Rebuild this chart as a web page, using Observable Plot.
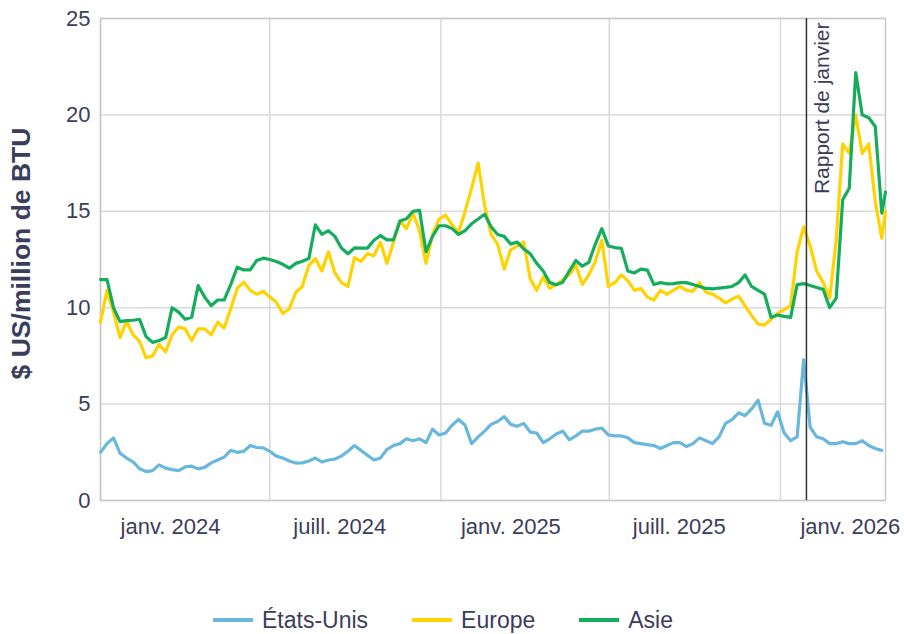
<!DOCTYPE html>
<html><head><meta charset="utf-8">
<script src="https://cdn.jsdelivr.net/npm/d3@7"></script>
<script src="https://cdn.jsdelivr.net/npm/@observablehq/plot@0.6"></script>
<style>
body{margin:0;background:#fff;font-family:"Liberation Sans",Arial,sans-serif;color:#3b3d5c}
#legend{display:flex;align-items:center;padding-left:213px;height:50px;font-size:23px}
.item{display:flex;align-items:center;margin-right:44px}
.sw{width:40px;height:4px;margin-right:9px}
</style></head><body><div id="chart"></div><div id="legend"></div>
<script>
const weeks = [
"2024-01-01","2024-01-08","2024-01-15","2024-01-22","2024-01-29",
"2024-02-05","2024-02-12","2024-02-19","2024-02-26",
"2024-03-04","2024-03-11","2024-03-18","2024-03-25",
"2024-04-01","2024-04-08","2024-04-15","2024-04-22","2024-04-29",
"2024-05-06","2024-05-13","2024-05-20","2024-05-27",
"2024-06-03","2024-06-10","2024-06-17","2024-06-24",
"2024-07-01","2024-07-08","2024-07-15","2024-07-22","2024-07-29",
"2024-08-05","2024-08-12","2024-08-19","2024-08-26",
"2024-09-02","2024-09-09","2024-09-16","2024-09-23","2024-09-30",
"2024-10-07","2024-10-14","2024-10-21","2024-10-28",
"2024-11-04","2024-11-11","2024-11-18","2024-11-25",
"2024-12-02","2024-12-09","2024-12-16","2024-12-23","2024-12-30",
"2025-01-06","2025-01-13","2025-01-20","2025-01-27",
"2025-02-03","2025-02-10","2025-02-17","2025-02-24",
"2025-03-03","2025-03-10","2025-03-17","2025-03-24","2025-03-31",
"2025-04-07","2025-04-14","2025-04-21","2025-04-28",
"2025-05-05","2025-05-12","2025-05-19","2025-05-26",
"2025-06-02","2025-06-09","2025-06-16","2025-06-23","2025-06-30",
"2025-07-07","2025-07-14","2025-07-21","2025-07-28",
"2025-08-04","2025-08-11","2025-08-18","2025-08-25",
"2025-09-01","2025-09-08","2025-09-15","2025-09-22","2025-09-29",
"2025-10-06","2025-10-13","2025-10-20","2025-10-27",
"2025-11-03","2025-11-10","2025-11-17","2025-11-24",
"2025-12-01","2025-12-08","2025-12-15","2025-12-22","2025-12-29",
"2026-01-05","2026-01-12","2026-01-19","2026-01-26",
"2026-02-02","2026-02-09","2026-02-16","2026-02-23",
"2026-03-02","2026-03-09","2026-03-16","2026-03-23","2026-03-30",
"2026-04-06","2026-04-13","2026-04-20",
"2026-04-24"
];

const usValues = [
2.5, 2.95, 3.25, 2.45, 2.2, 2.0, 1.65, 1.5, 1.55, 1.85,
1.68, 1.6, 1.55, 1.75, 1.78, 1.64, 1.72, 1.95, 2.1, 2.25,
2.6, 2.5, 2.55, 2.85, 2.75, 2.73, 2.55, 2.3, 2.2, 2.05,
1.94, 1.95, 2.05, 2.2, 2.0, 2.1, 2.15, 2.3, 2.55, 2.85,
2.6, 2.35, 2.1, 2.2, 2.65, 2.85, 2.95, 3.2, 3.1, 3.2,
3.0, 3.7, 3.4, 3.5, 3.9, 4.2, 3.9, 2.95, 3.3, 3.6,
3.95, 4.1, 4.35, 3.95, 3.85, 4.0, 3.55, 3.5, 3.0, 3.2,
3.45, 3.6, 3.15, 3.35, 3.6, 3.6, 3.7, 3.75, 3.4, 3.35,
3.35, 3.25, 3.0, 2.95, 2.9, 2.85, 2.7, 2.85, 3.0, 3.0,
2.8, 2.95, 3.25, 3.1, 2.95, 3.3, 4.0, 4.2, 4.55, 4.4,
4.75, 5.2, 4.0, 3.9, 4.6, 3.5, 3.1, 3.3, 7.3, 3.8,
3.3, 3.2, 2.95, 2.95, 3.05, 2.95, 2.95, 3.1, 2.85, 2.7,
2.6
];

const europeValues = [
9.25, 10.9, 9.77, 8.45, 9.3, 8.6, 8.25, 7.4, 7.5, 8.1,
7.7, 8.6, 9.0, 8.9, 8.3, 8.9, 8.9, 8.6, 9.25, 8.95,
9.94, 11.0, 11.32, 10.9, 10.7, 10.85, 10.55, 10.3, 9.7, 9.95,
10.8, 11.1, 12.2, 12.55, 11.9, 12.9, 11.8, 11.3, 11.1, 12.6,
12.4, 12.8, 12.7, 13.4, 12.3, 13.4, 14.5, 14.1, 14.9, 14.0,
12.3, 13.8, 14.6, 14.8, 14.3, 13.9, 15.0, 16.2, 17.5, 15.3,
13.8, 13.3, 12.0, 13.0, 13.2, 13.4, 11.5, 10.9, 11.6, 11.0,
11.2, 11.45, 11.7, 12.2, 11.2, 11.7, 12.4, 13.5, 11.1, 11.3,
11.7, 11.4, 10.9, 11.0, 10.55, 10.4, 10.9, 10.7, 10.9, 11.1,
10.9, 10.85, 11.3, 10.8, 10.7, 10.5, 10.25, 10.45, 10.6, 10.1,
9.6, 9.15, 9.1, 9.4, 9.7, 9.9, 10.1, 12.9, 14.2, 13.2,
11.9, 11.3, 10.5, 13.5, 18.5, 18.0, 20.0, 18.0, 18.5, 15.5,
13.6, 15.0
];

const asiaValues = [
11.46, 11.46, 10.0, 9.28, 9.33, 9.35, 9.4, 8.5, 8.2, 8.3,
8.45, 10.0, 9.77, 9.4, 9.5, 11.15, 10.55, 10.1, 10.4, 10.4,
11.2, 12.1, 11.96, 11.96, 12.45, 12.57, 12.5, 12.4, 12.25, 12.05,
12.3, 12.41, 12.55, 14.3, 13.8, 14.0, 13.7, 13.1, 12.8, 13.1,
13.09, 13.09, 13.5, 13.74, 13.52, 13.52, 14.5, 14.61, 15.0, 15.05,
12.9, 13.7, 14.25, 14.25, 14.1, 13.8, 14.0, 14.35, 14.6, 14.85,
14.2, 13.8, 13.7, 13.3, 13.4, 13.05, 12.8, 12.3, 11.9, 11.3,
11.19, 11.32, 11.9, 12.45, 12.15, 12.35, 13.3, 14.1, 13.2, 13.12,
13.08, 11.9, 11.8, 12.0, 11.95, 11.2, 11.3, 11.24, 11.25, 11.3,
11.3, 11.2, 11.1, 11.0, 10.98, 11.02, 11.05, 11.1, 11.3, 11.7,
11.1, 10.9, 10.7, 9.5, 9.62, 9.55, 9.5, 11.2, 11.25, 11.15,
11.05, 10.95, 10.0, 10.5, 15.6, 16.2, 22.2, 20.0, 19.85, 19.4,
14.9, 16.0
];

const seriesNames = ["États-Unis", "Europe", "Asie"];
const seriesColors = ["#6ab7de", "#ffd200", "#14ad5c"];
const yTicks = [0, 5, 10, 15, 20, 25];
const gridDates = ["2024-01-01", "2024-07-01", "2025-01-01", "2025-07-01", "2026-01-01"];
const xLabels = ["janv. 2024", "juill. 2024", "janv. 2025", "juill. 2025", "janv. 2026"];
const yTitle = "$ US/million de BTU";
const reportDate = "2026-01-29";
const reportLabel = "Rapport de janvier";
const xDomain = ["2024-01-01", "2026-04-24"];

const parse = d3.utcParse("%Y-%m-%d");
const toRows = vals => vals.map((v, i) => ({date: parse(weeks[i]), value: v}));
const seriesData = [toRows(usValues), toRows(europeValues), toRows(asiaValues)];
const labelMap = new Map(gridDates.map((d, i) => [+parse(d), xLabels[i]]));
const textColor = "#3b3d5c";

const chart = Plot.plot({
  width: 904, height: 595,
  marginLeft: 100, marginRight: 19, marginTop: 18, marginBottom: 95,
  style: {fontFamily: "'Liberation Sans', Arial, sans-serif", fontSize: "22px", color: textColor, background: "white"},
  x: {type: "utc", domain: xDomain.map(parse)},
  y: {domain: [0, 25]},
  marks: [
    Plot.ruleY(yTicks, {stroke: "#d9d9d9", strokeWidth: 1.5}),
    Plot.ruleX(gridDates.map(parse), {stroke: "#d9d9d9", strokeWidth: 1.5}),
    Plot.frame({stroke: "#c8c8c8", strokeWidth: 1.5}),
    Plot.axisY({ticks: yTicks, tickSize: 0, tickPadding: 10, label: null, fontSize: 22, fill: textColor}),
    Plot.axisX({ticks: gridDates.map(parse), tickSize: 0, tickPadding: 18, dx: 70, label: null,
      tickFormat: d => labelMap.get(+d), fontSize: 22, fill: textColor}),
    Plot.text([yTitle], {frameAnchor: "left", textAnchor: "middle", dx: -79, dy: -6, rotate: -90,
      fontWeight: "bold", fontSize: 26.5, fill: textColor}),
    ...seriesData.map((data, k) => Plot.line(data, {x: "date", y: "value", stroke: seriesColors[k], strokeWidth: 3.2})),
    Plot.ruleX([parse(reportDate)], {stroke: "#333333", strokeWidth: 1.5}),
    Plot.text([reportLabel], {x: [parse(reportDate)], frameAnchor: "top", rotate: -90, textAnchor: "end",
      dx: 8, dy: 4, fontSize: 21, fill: textColor})
  ]
});
document.getElementById("chart").appendChild(chart);

const legend = document.getElementById("legend");
seriesNames.forEach((name, k) => {
  const item = document.createElement("div");
  item.className = "item";
  const sw = document.createElement("span");
  sw.className = "sw";
  sw.style.background = seriesColors[k];
  const label = document.createElement("span");
  label.textContent = name;
  item.appendChild(sw);
  item.appendChild(label);
  legend.appendChild(item);
});
</script></body></html>
